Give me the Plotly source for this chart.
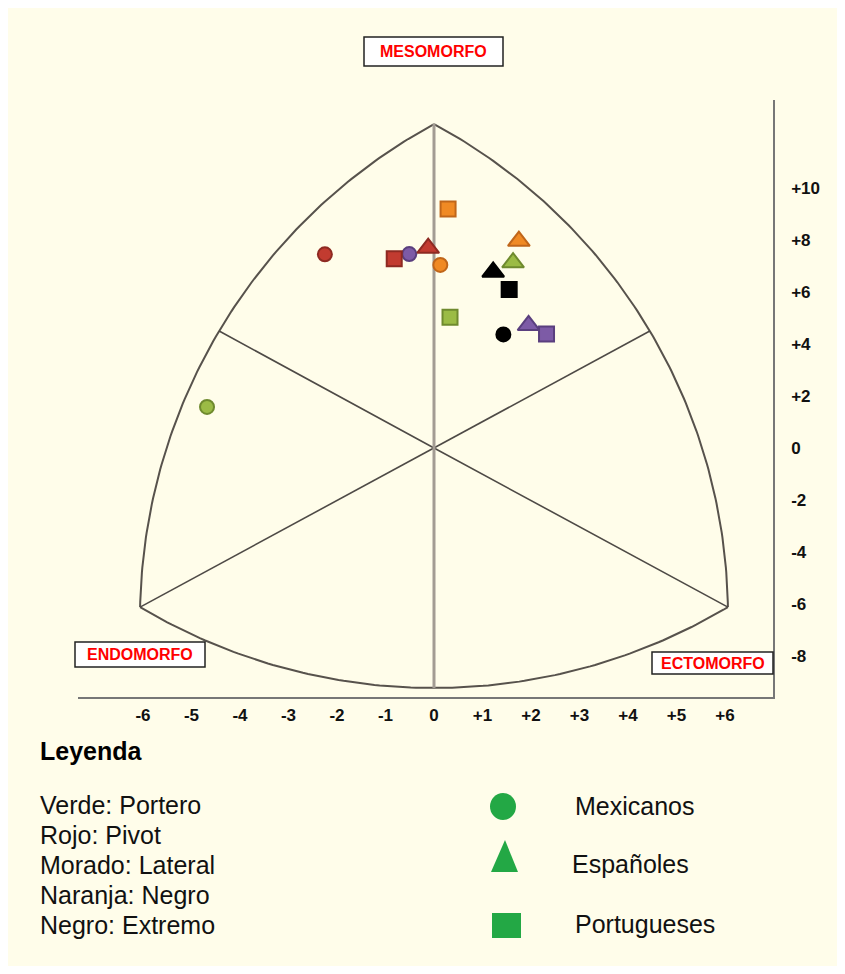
import numpy as np
import plotly.graph_objects as go

# ---------------- data ----------------
positions = ["Portero", "Pivot", "Lateral", "Negro", "Extremo"]
position_colors = ["#9BBB45", "#C23B30", "#7D5BA6", "#F08A24", "#000000"]
position_lines = ["#6F8A2E", "#8E2A22", "#5A3F7E", "#C0661A", "#000000"]
color_names = ["Verde", "Rojo", "Morado", "Naranja", "Negro"]

groups = ["Mexicanos", "Españoles", "Portugueses"]
group_symbols = ["circle", "triangle-up", "square"]

# somatopoint coordinates (X = ecto - endo, Y = 2*meso - (endo + ecto)), per position
mex_x = [-4.68, -2.25, -0.51, 0.13, 1.43]
mex_y = [1.58, 7.45, 7.46, 7.04, 4.37]
esp_x = [1.63, -0.12, 1.95, 1.75, 1.22]
esp_y = [7.13, 7.69, 4.72, 7.96, 6.77]
por_x = [0.33, -0.82, 2.32, 0.29, 1.55]
por_y = [5.03, 7.28, 4.38, 9.19, 6.10]
group_x = [mex_x, esp_x, por_x]
group_y = [mex_y, esp_y, por_y]

x_ticks = [-6, -5, -4, -3, -2, -1, 0, 1, 2, 3, 4, 5, 6]
x_ticktext = ["-6", "-5", "-4", "-3", "-2", "-1", "0", "+1", "+2", "+3", "+4", "+5", "+6"]
y_ticks = [10, 8, 6, 4, 2, 0, -2, -4, -6, -8]
y_ticktext = ["+10", "+8", "+6", "+4", "+2", "0", "-2", "-4", "-6", "-8"]

# somatochart frame (Reuleaux-like triangle)
TOP = (0.0, 12.46)
LEFT = (-6.06, -6.12)
RIGHT = (6.06, -6.12)
LMID = (-4.43, 4.5)
RMID = (4.45, 4.5)
BOT = (0.0, -9.23)

# ---------------- layout geometry ----------------
OFF = 8  # page body margin
W, H = 845 - 2 * OFF, 974 - 2 * OFF
PL, PR, PT, PB = 78 - OFF, 773 - OFF, 100 - OFF, 697 - OFF
SX, SY = 48.5, 26.0  # px per unit
X0, Y0 = 434 - OFF, 448 - OFF
xr = [(PL - X0) / SX, (PR - X0) / SX]
yr = [(Y0 - PB) / SY, (Y0 - PT) / SY]


def px(x):
    return (x - OFF - PL) / (PR - PL)


def py(y):
    return (PB - (y - OFF)) / (PB - PT)


def arc(p1, p2, p3, n=120):
    a = np.array([p1[0] * SX, p1[1] * SY])
    b = np.array([p2[0] * SX, p2[1] * SY])
    c = np.array([p3[0] * SX, p3[1] * SY])
    d = 2 * (a[0] * (b[1] - c[1]) + b[0] * (c[1] - a[1]) + c[0] * (a[1] - b[1]))
    ux = ((a @ a) * (b[1] - c[1]) + (b @ b) * (c[1] - a[1]) + (c @ c) * (a[1] - b[1])) / d
    uy = ((a @ a) * (c[0] - b[0]) + (b @ b) * (a[0] - c[0]) + (c @ c) * (b[0] - a[0])) / d
    r = np.hypot(a[0] - ux, a[1] - uy)
    t1 = np.arctan2(a[1] - uy, a[0] - ux)
    t2 = np.arctan2(b[1] - uy, b[0] - ux)
    t3 = np.arctan2(c[1] - uy, c[0] - ux)
    t2 = t1 + ((t2 - t1 + np.pi) % (2 * np.pi) - np.pi)
    t3 = t2 + ((t3 - t2 + np.pi) % (2 * np.pi) - np.pi)
    t = np.linspace(t1, t3, n)
    return (ux + r * np.cos(t)) / SX, (uy + r * np.sin(t)) / SY


fig = go.Figure()

# frame arcs
for p1, p2, p3 in [(TOP, LMID, LEFT), (TOP, RMID, RIGHT), (LEFT, BOT, RIGHT)]:
    ax_, ay_ = arc(p1, p2, p3)
    fig.add_trace(go.Scatter(x=ax_, y=ay_, mode="lines", hoverinfo="skip",
                             line=dict(color="#57524C", width=2)))
# diagonal lines
for pa, pb in [(LMID, RIGHT), (LEFT, RMID)]:
    fig.add_trace(go.Scatter(x=[pa[0], 0, pb[0]], y=[pa[1], 0, pb[1]], mode="lines",
                             hoverinfo="skip", line=dict(color="#4E4A46", width=1.6)))
# vertical line
fig.add_trace(go.Scatter(x=[TOP[0], BOT[0]], y=[TOP[1], BOT[1]], mode="lines",
                         hoverinfo="skip", line=dict(color="#A39C93", width=3)))

# data points
for g, sym, gx, gy in zip(groups, group_symbols, group_x, group_y):
    size = {"circle": 14, "triangle-up": 19, "square": 15}[sym]
    fig.add_trace(go.Scatter(
        x=gx, y=gy, mode="markers", name=g,
        text=positions,
        marker=dict(symbol=sym, size=size, color=position_colors,
                    line=dict(color=position_lines, width=2)),
    ))

shapes = []
annotations = []
cream = "#FFFDEA"

# label boxes
for label, (bx0, by0, bx1, by1) in [("MESOMORFO", (364, 37, 503, 66)),
                                    ("ENDOMORFO", (75, 642, 205, 667)),
                                    ("ECTOMORFO", (652, 652, 773, 674))]:
    shapes.append(dict(type="rect", xref="paper", yref="paper",
                       x0=px(bx0), x1=px(bx1), y0=py(by1), y1=py(by0),
                       fillcolor="#FFFFFF", line=dict(color="#222222", width=1.5), layer="above"))
    annotations.append(dict(xref="paper", yref="paper", x=px((bx0 + bx1) / 2), y=py((by0 + by1) / 2),
                            text="<b>%s</b>" % label, showarrow=False, xanchor="center", yanchor="middle",
                            font=dict(family="Liberation Sans", size=16, color="#FF0000")))

# legend block
annotations.append(dict(xref="paper", yref="paper", x=px(38), y=py(751), text="<b>Leyenda</b>",
                        showarrow=False, xanchor="left", yanchor="middle",
                        font=dict(family="Liberation Sans", size=25, color="#000000")))
for i, (cn, pos) in enumerate(zip(color_names, positions)):
    annotations.append(dict(xref="paper", yref="paper", x=px(38), y=py(805 + 30 * i),
                            text="%s: %s" % (cn, pos), showarrow=False, xanchor="left", yanchor="middle",
                            font=dict(family="Liberation Sans", size=25, color="#111111")))

green = "#23A845"
shapes.append(dict(type="circle", xref="paper", yref="paper",
                   x0=px(490), x1=px(516), y0=py(820), y1=py(793),
                   fillcolor=green, line=dict(width=0)))
shapes.append(dict(type="path", xref="paper", yref="paper",
                   path="M %f,%f L %f,%f L %f,%f Z" % (px(505), py(840), px(518), py(872), px(491), py(872)),
                   fillcolor=green, line=dict(width=0)))
shapes.append(dict(type="rect", xref="paper", yref="paper",
                   x0=px(492), x1=px(521), y0=py(938), y1=py(913),
                   fillcolor=green, line=dict(width=0)))
for g, (lx, ly) in zip(groups, [(573, 806), (570, 864), (573, 924)]):
    annotations.append(dict(xref="paper", yref="paper", x=px(lx), y=py(ly), text=g,
                            showarrow=False, xanchor="left", yanchor="middle",
                            font=dict(family="Liberation Sans", size=25, color="#111111")))

fig.update_layout(
    width=W, height=H,
    margin=dict(l=PL, r=W - PR, t=PT, b=H - PB, pad=0),
    paper_bgcolor=cream, plot_bgcolor=cream,
    showlegend=False,
    shapes=shapes, annotations=annotations,
    xaxis=dict(range=xr, showgrid=False, zeroline=False, showline=True,
               linecolor="#777777", linewidth=1.5, tickmode="array",
               tickvals=x_ticks, ticktext=x_ticktext, ticks="", ticklabelstandoff=2,
               tickfont=dict(family="Liberation Sans", size=17, color="#111111"),
               fixedrange=True),
    yaxis=dict(range=yr, side="right", showgrid=False, zeroline=False, showline=True,
               linecolor="#777777", linewidth=1.5, tickmode="array",
               tickvals=y_ticks, ticktext=y_ticktext, ticks="", ticklabelstandoff=13,
               tickfont=dict(family="Liberation Sans", size=17, color="#111111"),
               fixedrange=True),
)
fig.update_xaxes(tickfont_weight="bold")
fig.update_yaxes(tickfont_weight="bold")

fig.write_html("out.html")
